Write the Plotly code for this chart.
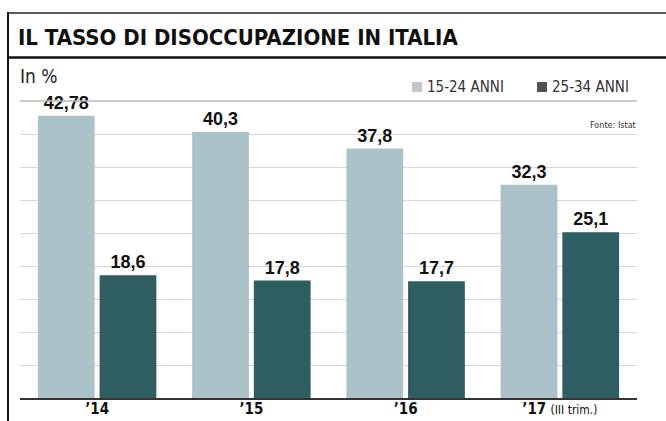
import plotly.graph_objects as go

# ---- data ----
categories = ["2014", "2015", "2016", "2017"]
tick_labels = ["<b>’14</b>", "<b>’15</b>", "<b>’16</b>",
               "<b>’17</b> <span style='font-size:12px'>(III trim.)</span>"]
series_names = ["15-24 ANNI", "25-34 ANNI"]
values_15_24 = [42.78, 40.3, 37.8, 32.3]
values_25_34 = [18.6, 17.8, 17.7, 25.1]

LIGHT = "#aac2c8"
DARK = "#2e5d62"
NARROW = "DejaVu Sans Condensed, Liberation Sans Narrow, Arial Narrow, sans-serif"
BOLDF = "Liberation Sans, Arial, sans-serif"

W, H = 666, 421
L, R, T, B = 20, 29, 101, 23
PW, PH = W - L - R, H - T - B


def xp(px):
    return (px - L) / PW


def yp(py):
    return (H - B - py) / PH


def fmt(v):
    return str(v).replace(".", ",")


fig = go.Figure()
for name, vals, col in [(series_names[0], values_15_24, LIGHT),
                        (series_names[1], values_25_34, DARK)]:
    fig.add_trace(go.Bar(
        x=categories, y=vals, name=name, marker=dict(color=col, line=dict(width=0)),
        text=["<b>" + fmt(v) + "</b>" for v in vals], textposition="outside",
        textfont=dict(family=BOLDF, size=18, color="#111"), cliponaxis=False,
        showlegend=False,
    ))

shapes = [
    dict(type="line", xref="paper", yref="paper", x0=xp(8), x1=xp(8), y0=yp(12), y1=yp(421),
         line=dict(color="#111", width=2)),
    dict(type="line", xref="paper", yref="paper", x0=xp(7), x1=xp(666), y0=yp(13), y1=yp(13),
         line=dict(color="#222", width=1.5)),
    dict(type="line", xref="paper", yref="paper", x0=xp(7), x1=xp(666), y0=yp(57.5), y1=yp(57.5),
         line=dict(color="#111", width=2.5)),
    dict(type="line", xref="paper", yref="paper", x0=0, x1=1, y0=1, y1=1,
         line=dict(color="#b8b8b8", width=1.5)),
    dict(type="rect", xref="paper", yref="paper", x0=xp(412), x1=xp(422), y0=yp(92), y1=yp(82),
         fillcolor="#c6c6c6", line=dict(width=0)),
    dict(type="rect", xref="paper", yref="paper", x0=xp(537), x1=xp(547), y0=yp(92), y1=yp(82),
         fillcolor="#4e5354", line=dict(width=0)),
]

annotations = [
    dict(text="<b>IL TASSO DI DISOCCUPAZIONE IN ITALIA</b>", xref="paper", yref="paper",
         x=xp(16), y=yp(38), xanchor="left", yanchor="middle", showarrow=False,
         font=dict(family=NARROW, size=22, color="#111")),
    dict(text="In %", xref="paper", yref="paper", x=xp(18), y=yp(76), xanchor="left",
         yanchor="middle", showarrow=False, font=dict(family=NARROW, size=19, color="#222")),
    dict(text=series_names[0], xref="paper", yref="paper", x=xp(425), y=yp(87), xanchor="left",
         yanchor="middle", showarrow=False, font=dict(family=NARROW, size=15, color="#333")),
    dict(text=series_names[1], xref="paper", yref="paper", x=xp(550), y=yp(87), xanchor="left",
         yanchor="middle", showarrow=False, font=dict(family=NARROW, size=15, color="#333")),
    dict(text="Fonte: Istat", xref="paper", yref="paper", x=xp(638), y=yp(125), xanchor="right",
         yanchor="middle", showarrow=False, font=dict(family=NARROW, size=9, color="#333")),
]

fig.update_layout(
    width=W, height=H, margin=dict(l=L, r=R, t=T, b=B),
    paper_bgcolor="white", plot_bgcolor="white",
    barmode="group", bargap=0.2, bargroupgap=0.08,
    shapes=shapes, annotations=annotations,
    xaxis=dict(tickmode="array", tickvals=categories, ticktext=tick_labels,
               showline=True, linecolor="#333", linewidth=1.5, ticks="",
               ticklabelstandoff=-4,
               tickfont=dict(family=NARROW, size=15, color="#111"), showgrid=False,
               fixedrange=True, automargin=False),
    yaxis=dict(range=[0, 45], dtick=5, showticklabels=False, showgrid=True,
               gridcolor="#d6d6d6", gridwidth=1, zeroline=False, ticks="",
               fixedrange=True, automargin=False),
)

fig.write_html("out.html", config={"displayModeBar": False},
               post_script="document.body.style.margin='0';document.body.style.overflow='hidden';")
